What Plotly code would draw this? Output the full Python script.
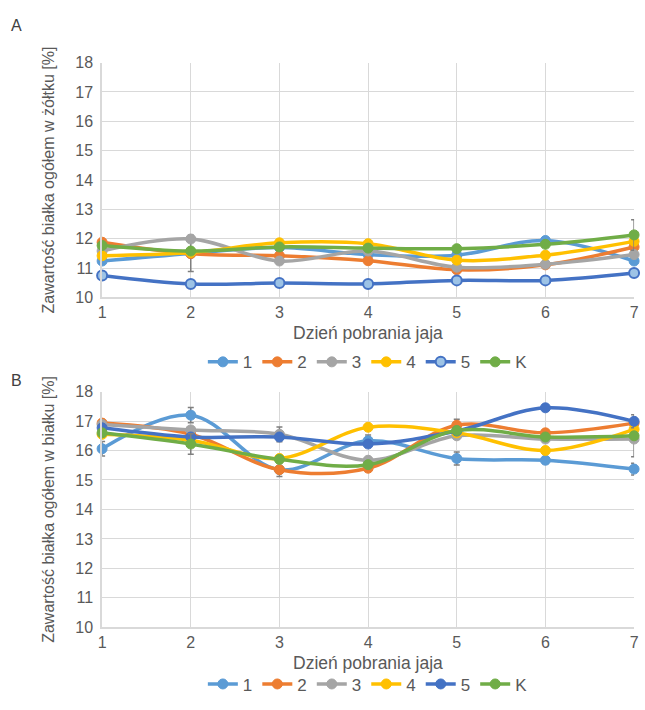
import plotly.graph_objects as go

days = [1, 2, 3, 4, 5, 6, 7]
series_names = ["1", "2", "3", "4", "5", "K"]
colors = ["#5B9BD5", "#ED7D31", "#A5A5A5", "#FFC000", "#4472C4", "#70AD47"]

# Panel A: total protein in yolk [%]
yolk_1 = [11.24, 11.50, 11.70, 11.46, 11.44, 11.94, 11.24]
yolk_2 = [11.88, 11.49, 11.42, 11.25, 10.94, 11.11, 11.72]
yolk_3 = [11.58, 11.99, 11.24, 11.58, 11.03, 11.13, 11.46]
yolk_4 = [11.42, 11.53, 11.86, 11.83, 11.27, 11.44, 11.91]
yolk_5 = [10.75, 10.46, 10.49, 10.46, 10.58, 10.58, 10.83]
yolk_K = [11.77, 11.58, 11.72, 11.68, 11.66, 11.81, 12.13]
yolk_err_1 = [0.10, 0.62, 0.08, 0.08, 0.08, 0.08, 0.10]
yolk_err_2 = [0.06, 0.06, 0.06, 0.06, 0.06, 0.06, 0.06]
yolk_err_3 = [0.06, 0.10, 0.06, 0.06, 0.06, 0.06, 0.06]
yolk_err_4 = [0.06, 0.06, 0.06, 0.06, 0.06, 0.06, 0.06]
yolk_err_5 = [0.05, 0.05, 0.05, 0.05, 0.05, 0.05, 0.05]
yolk_err_K = [0.06, 0.06, 0.06, 0.06, 0.06, 0.06, 0.52]

# Panel B: total protein in albumen [%]
alb_1 = [16.06, 17.20, 15.35, 16.33, 15.73, 15.67, 15.37]
alb_2 = [16.93, 16.55, 15.35, 15.40, 16.86, 16.60, 16.93]
alb_3 = [16.88, 16.70, 16.55, 15.67, 16.50, 16.39, 16.39]
alb_4 = [16.55, 16.35, 15.73, 16.79, 16.60, 16.00, 16.72]
alb_5 = [16.77, 16.46, 16.46, 16.22, 16.66, 17.45, 16.99]
alb_K = [16.60, 16.22, 15.70, 15.52, 16.68, 16.46, 16.50]
alb_err_1 = [0.25, 0.26, 0.10, 0.20, 0.22, 0.12, 0.20]
alb_err_2 = [0.08, 0.08, 0.23, 0.08, 0.20, 0.08, 0.08]
alb_err_3 = [0.08, 0.08, 0.25, 0.08, 0.10, 0.08, 0.60]
alb_err_4 = [0.08, 0.08, 0.08, 0.08, 0.08, 0.10, 0.08]
alb_err_5 = [0.08, 0.08, 0.08, 0.08, 0.08, 0.08, 0.22]
alb_err_K = [0.08, 0.35, 0.08, 0.08, 0.08, 0.08, 0.08]

yolk = [yolk_1, yolk_2, yolk_3, yolk_4, yolk_5, yolk_K]
yolk_err = [yolk_err_1, yolk_err_2, yolk_err_3, yolk_err_4, yolk_err_5, yolk_err_K]
alb = [alb_1, alb_2, alb_3, alb_4, alb_5, alb_K]
alb_err = [alb_err_1, alb_err_2, alb_err_3, alb_err_4, alb_err_5, alb_err_K]

y_ticks = list(range(10, 19))
x_title = "Dzień pobrania jaja"
y_title_A = "Zawartość białka ogółem w żółtku [%]"
y_title_B = "Zawartość białka ogółem w białku [%]"

FONT = "Liberation Sans, Arial, sans-serif"
TXT = "#595959"
W, H = 645, 710

fig = go.Figure()

def add_panel(data, errs, xa, ya, legend, light5):
    for i, name in enumerate(series_names):
        if name == "5" and light5:
            marker = dict(size=10, color="#9DC3E6", line=dict(color=colors[i], width=2))
        else:
            marker = dict(size=10, color=colors[i], line=dict(color=colors[i], width=1))
        fig.add_trace(go.Scatter(
            x=days, y=data[i], name=name, mode="lines+markers",
            line=dict(color=colors[i], width=3.5, shape="spline", smoothing=1),
            marker=marker,
            error_y=dict(type="data", array=errs[i], visible=True,
                         color="#7F7F7F", thickness=1.5, width=3),
            xaxis=xa, yaxis=ya, legend=legend, cliponaxis=False,
        ))

add_panel(yolk, yolk_err, "x", "y", "legend", True)
add_panel(alb, alb_err, "x2", "y2", "legend2", False)

xdom = [99.5 / W, 639 / W]
topA, botA = 56, 296.5
topB, botB = 393, 634.5

axis_common = dict(
    showgrid=True, gridcolor="#D9D9D9", gridwidth=1, zeroline=False,
    showline=True, linecolor="#D9D9D9", linewidth=1.5,
    tickfont=dict(family=FONT, size=16, color=TXT), ticks="",
)

fig.update_layout(
    width=W, height=H,
    margin=dict(l=0, r=0, t=0, b=0),
    paper_bgcolor="white", plot_bgcolor="white",
    font=dict(family=FONT, color=TXT),
    xaxis=dict(domain=xdom, anchor="y", range=[1, 7], tickvals=days, **axis_common),
    yaxis=dict(domain=[1 - botA / H, 1 - topA / H], anchor="x", range=[10, 18],
               tickvals=y_ticks, ticklabelstandoff=4, **axis_common),
    xaxis2=dict(domain=xdom, anchor="y2", range=[1, 7], tickvals=days, **axis_common),
    yaxis2=dict(domain=[1 - botB / H, 1 - topB / H], anchor="x2", range=[10, 18],
                tickvals=y_ticks, ticklabelstandoff=4, **axis_common),
    legend=dict(orientation="h", x=369 / W, y=1 - 363 / H, xanchor="center", yanchor="middle",
                font=dict(family=FONT, size=17, color=TXT), bgcolor="rgba(0,0,0,0)",
                itemwidth=30, tracegroupgap=0),
    legend2=dict(orientation="h", x=369 / W, y=1 - 693 / H, xanchor="center", yanchor="middle",
                 font=dict(family=FONT, size=17, color=TXT), bgcolor="rgba(0,0,0,0)",
                 itemwidth=30, tracegroupgap=0),
    showlegend=True,
)

ann_font = dict(family=FONT, size=17.5, color=TXT)
annotations = [
    dict(text="A", x=13 / W, y=1 - 18 / H, xref="paper", yref="paper", showarrow=False,
         xanchor="center", yanchor="middle", font=dict(family=FONT, size=16, color="#404040")),
    dict(text="B", x=13 / W, y=1 - 382 / H, xref="paper", yref="paper", showarrow=False,
         xanchor="center", yanchor="middle", font=dict(family=FONT, size=16, color="#404040")),
    dict(text=x_title, x=369 / W, y=1 - 333 / H, xref="paper", yref="paper", showarrow=False,
         xanchor="center", yanchor="middle", font=ann_font),
    dict(text=x_title, x=369 / W, y=1 - 671 / H, xref="paper", yref="paper", showarrow=False,
         xanchor="center", yanchor="middle", font=ann_font),
    dict(text=y_title_A, x=45 / W, y=1 - (topA + botA) / 2 / H, xref="paper", yref="paper",
         showarrow=False, textangle=-90, xanchor="center", yanchor="middle",
         font=dict(family=FONT, size=16, color=TXT)),
    dict(text=y_title_B, x=45 / W, y=1 - (topB + botB) / 2 / H, xref="paper", yref="paper",
         showarrow=False, textangle=-90, xanchor="center", yanchor="middle",
         font=dict(family=FONT, size=16, color=TXT)),
]
fig.update_layout(annotations=annotations)

fig.write_html("out.html")
